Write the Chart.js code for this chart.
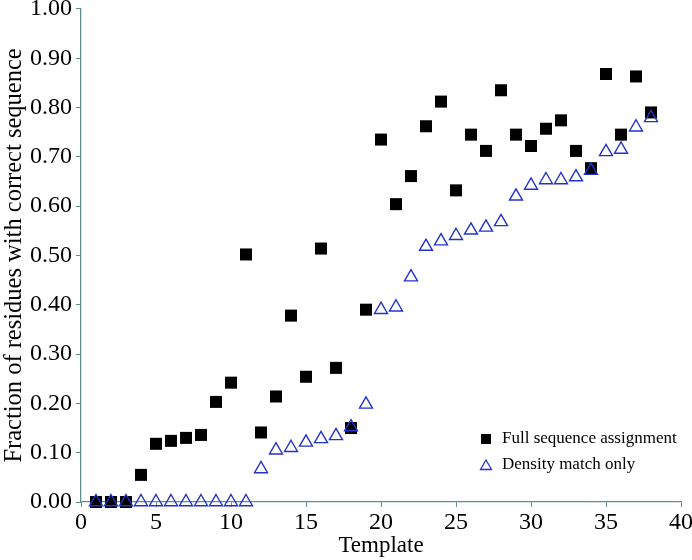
<!DOCTYPE html>
<html>
<head>
<meta charset="utf-8">
<script src="https://cdn.jsdelivr.net/npm/chart.js@4/dist/chart.umd.min.js"></script>
<style>
  body { margin: 0; background: #fff; }
  #wrap { width: 692px; height: 560px; }
</style>
</head>
<body>
<div id="wrap"><canvas id="scatter" width="692" height="560"></canvas></div>
<script>
// template numbers 1..38
const templates = [1, 2, 3, 4, 5, 6, 7, 8, 9, 10, 11, 12, 13, 14, 15, 16, 17, 18, 19,
  20, 21, 22, 23, 24, 25, 26, 27, 28, 29, 30, 31, 32, 33, 34, 35, 36, 37, 38];

// fraction correct, full sequence assignment
const fullSeq = [0, 0, 0, 0.055, 0.118, 0.124, 0.130, 0.136, 0.203, 0.242, 0.502, 0.141,
  0.214, 0.378, 0.254, 0.514, 0.272, 0.150, 0.390, 0.735, 0.604, 0.661, 0.762, 0.812,
  0.632, 0.745, 0.712, 0.835, 0.745, 0.722, 0.757, 0.774, 0.712, 0.677, 0.868, 0.745,
  0.863, 0.790];

// fraction correct, density match only
const densityOnly = [0, 0, 0, 0, 0, 0, 0, 0, 0, 0, 0, 0.067, 0.105, 0.110, 0.121, 0.128,
  0.134, 0.152, 0.198, 0.390, 0.395, 0.456, 0.518, 0.529, 0.540, 0.551, 0.557, 0.568,
  0.620, 0.642, 0.653, 0.653, 0.659, 0.672, 0.710, 0.715, 0.760, 0.779];

const legendLabels = ["Full sequence assignment", "Density match only"];

const axisColor = "#5f8f8f";
const serif = "'Liberation Serif', 'Times New Roman', serif";

function toPoints(ys) {
  return templates.map(function (t, i) {
    return { x: t, y: ys[i] };
  });
}

// small legend drawn inside the plot, lower right
const innerLegend = {
  id: "innerLegend",
  afterDraw(chart) {
    const ctx = chart.ctx;
    const x0 = 486, rows = [439, 465];
    ctx.save();
    // square
    ctx.fillStyle = "#000";
    ctx.fillRect(x0 - 5, rows[0] - 5, 10, 10);
    // triangle
    ctx.strokeStyle = "#2233cc";
    ctx.lineWidth = 1.3;
    ctx.beginPath();
    ctx.moveTo(x0, rows[1] - 5);
    ctx.lineTo(x0 + 5.5, rows[1] + 4.5);
    ctx.lineTo(x0 - 5.5, rows[1] + 4.5);
    ctx.closePath();
    ctx.stroke();
    ctx.fillStyle = "#000";
    ctx.font = "17px " + serif;
    ctx.textBaseline = "middle";
    ctx.fillText(legendLabels[0], 502, rows[0]);
    ctx.fillText(legendLabels[1], 502, rows[1]);
    ctx.restore();
  }
};

const ctx = document.getElementById("scatter");
new Chart(ctx, {
  type: "scatter",
  data: {
    datasets: [
      {
        label: legendLabels[1],
        data: toPoints(densityOnly),
        pointStyle: "triangle",
        pointRadius: 7.5,
        pointBorderWidth: 1.4,
        borderColor: "#2233cc",
        backgroundColor: "rgba(0,0,0,0)",
        clip: false,
        order: 0,
      },
      {
        label: legendLabels[0],
        data: toPoints(fullSeq),
        pointStyle: "rect",
        pointRadius: 8.5,
        pointBorderWidth: 0,
        borderColor: "#000",
        backgroundColor: "#000",
        clip: false,
        order: 1,
      },
    ],
  },
  options: {
    responsive: false,
    animation: false,
    events: [],
    layout: { padding: { left: 0, right: 0, top: 1, bottom: 0 } },
    plugins: {
      legend: { display: false },
      tooltip: { enabled: false },
    },
    scales: {
      x: {
        type: "linear",
        min: 0,
        max: 40,
        ticks: {
          stepSize: 5,
          color: "#000",
          font: { family: serif, size: 24 },
          padding: 1,
        },
        grid: { drawOnChartArea: false, drawTicks: true, tickLength: 5, color: axisColor },
        border: { color: axisColor, width: 1.3 },
        title: {
          display: true,
          text: "Template",
          color: "#000",
          font: { family: serif, size: 23 },
          padding: { top: 0, bottom: 0 },
        },
        afterFit(scale) {
          scale.height = 58;
          scale.paddingRight = 11;
        },
      },
      y: {
        min: 0,
        max: 1,
        ticks: {
          stepSize: 0.1,
          color: "#000",
          font: { family: serif, size: 24 },
          padding: 4,
          callback: function (v) { return Number(v).toFixed(2); },
        },
        grid: { drawOnChartArea: false, drawTicks: true, tickLength: 5, color: axisColor },
        border: { color: axisColor, width: 1.3 },
        title: {
          display: true,
          text: "Fraction of residues with correct sequence",
          color: "#000",
          font: { family: serif, size: 24.5 },
          padding: { top: 0, bottom: 0 },
        },
        afterFit(scale) {
          scale.width = 81;
          scale.paddingTop = 8;
        },
      },
    },
  },
  plugins: [innerLegend],
});
</script>
</body>
</html>
